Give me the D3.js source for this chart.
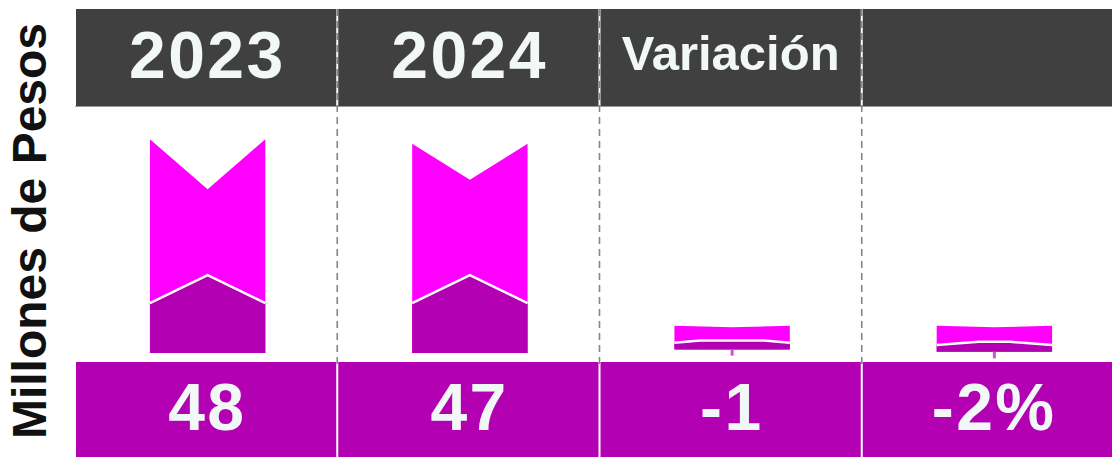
<!DOCTYPE html>
<html>
<head>
<meta charset="utf-8">
<script src="https://cdn.jsdelivr.net/npm/d3@7"></script>
<style>
  body { margin: 0; background: #fff; overflow: hidden; }
  text { font-family: "Liberation Sans", Arial, sans-serif; font-weight: bold; }
</style>
</head>
<body>
<div id="chart"></div>
<script>
// Data (millones de pesos)
const categories = ["2023", "2024", "Variación", "Porcentaje"];
const headerLabels = ["2023", "2024", "Variación", ""];
const valueLabels = ["48", "47", "-1", "-2%"];
const barTop = [48, 47, 6.1, 6.1];
const barNotch = [36.8, 38.9, 5.8, 5.8];
const barBase = [0, 0, 0.8, 0.3];
const innerSide = [11.2, 11.2, 2.3, 1.8];
const innerPeak = [17.5, 17.5, 2.8, 2.5];
const innerFlat = [0, 0, 0.55, 0.27];
const tickEnd = [0, 0, -0.6, -1.2];

const width = 1112, height = 457;
const colors = { header: "#404040", light: "#ff00ff", dark: "#b300b3", text: "#f2f7f7" };

const svg = d3.select("#chart")
    .append("svg")
    .attr("width", width)
    .attr("height", height);

// Scales
const x = d3.scaleBand()
    .domain(categories)
    .range([75, 1124]);

const y = d3.scaleLinear()
    .domain([0, 48])
    .range([353, 139.3]);

const barW = x.bandwidth() * 0.44;
const spacing = 2.5;

const rows = categories.map((c, i) => ({
    cat: c, header: headerLabels[i], label: valueLabels[i],
    top: barTop[i], notch: barNotch[i], base: barBase[i],
    side: innerSide[i], peak: innerPeak[i], flat: innerFlat[i], tick: tickEnd[i]
}));

// Header band
svg.selectAll(".head")
    .data(rows)
    .enter().append("rect")
    .attr("class", "head")
    .attr("x", d => x(d.cat) + 1)
    .attr("y", 9)
    .attr("width", x.bandwidth() - 2)
    .attr("height", 97)
    .attr("fill", colors.header);

svg.append("line")
    .attr("x1", x.range()[0]).attr("x2", width)
    .attr("y1", 106.5).attr("y2", 106.5)
    .attr("stroke", "#9a9a9a")
    .attr("stroke-width", 1);

svg.selectAll(".head-label")
    .data(rows)
    .enter().append("text")
    .attr("class", "head-label")
    .attr("x", d => x(d.cat) + x.bandwidth() / 2 + (d.cat === "Variación" ? 0 : spacing / 2))
    .attr("y", d => d.cat === "Variación" ? 70 : 78)
    .attr("text-anchor", "middle")
    .attr("letter-spacing", d => d.cat === "Variación" ? 0 : spacing)
    .attr("font-size", d => d.cat === "Variación" ? 49 : 66)
    .attr("fill", colors.text)
    .text(d => d.header);

// Bottom value band
svg.selectAll(".foot")
    .data(rows)
    .enter().append("rect")
    .attr("class", "foot")
    .attr("x", d => x(d.cat) + 1)
    .attr("y", 362)
    .attr("width", x.bandwidth() - 2)
    .attr("height", height - 362)
    .attr("fill", colors.dark);

svg.selectAll(".foot-label")
    .data(rows)
    .enter().append("text")
    .attr("class", "foot-label")
    .attr("x", d => x(d.cat) + x.bandwidth() / 2 + spacing / 2)
    .attr("y", 430)
    .attr("text-anchor", "middle")
    .attr("letter-spacing", spacing)
    .attr("font-size", 66)
    .attr("fill", colors.text)
    .text(d => d.label);

// Column separators
svg.selectAll(".sep")
    .data(categories.slice(1))
    .enter().append("line")
    .attr("class", "sep")
    .attr("x1", d => x(d)).attr("x2", d => x(d))
    .attr("y1", 9).attr("y2", 366)
    .attr("stroke", "#858585")
    .attr("stroke-width", 1.6)
    .attr("stroke-dasharray", "7,5");

// Bars
const cx = d => x(d.cat) + x.bandwidth() / 2 + 1.5;

const bars = svg.selectAll(".bar")
    .data(rows)
    .enter().append("g")
    .attr("class", "bar");

bars.append("polygon")
    .attr("fill", colors.light)
    .attr("points", d => [
        [cx(d) - barW / 2, y(d.top)],
        [cx(d), y(d.notch)],
        [cx(d) + barW / 2, y(d.top)],
        [cx(d) + barW / 2, y(d.base)],
        [cx(d) - barW / 2, y(d.base)]
    ].join(" "));

const innerTop = d => [
    [cx(d) - barW / 2, y(d.side)],
    [cx(d) - d.flat * barW / 2, y(d.peak)],
    [cx(d) + d.flat * barW / 2, y(d.peak)],
    [cx(d) + barW / 2, y(d.side)]
];

bars.append("polygon")
    .attr("fill", colors.dark)
    .attr("points", d => innerTop(d).concat([
        [cx(d) + barW / 2, y(d.base)],
        [cx(d) - barW / 2, y(d.base)]
    ]).join(" "));

bars.append("polyline")
    .attr("fill", "none")
    .attr("stroke", "#fff")
    .attr("stroke-width", 2.5)
    .attr("points", d => innerTop(d).join(" "));

bars.filter(d => d.tick < 0)
    .append("rect")
    .attr("x", d => cx(d) - 1.5)
    .attr("y", d => y(d.base))
    .attr("width", 3)
    .attr("height", d => y(d.tick) - y(d.base))
    .attr("fill", "#d64fd6");

// Y axis title
svg.append("text")
    .attr("transform", "translate(46,231) rotate(-90)")
    .attr("text-anchor", "middle")
    .attr("font-size", 48)
    .attr("fill", "#111")
    .text("Millones de Pesos");
</script>
</body>
</html>
